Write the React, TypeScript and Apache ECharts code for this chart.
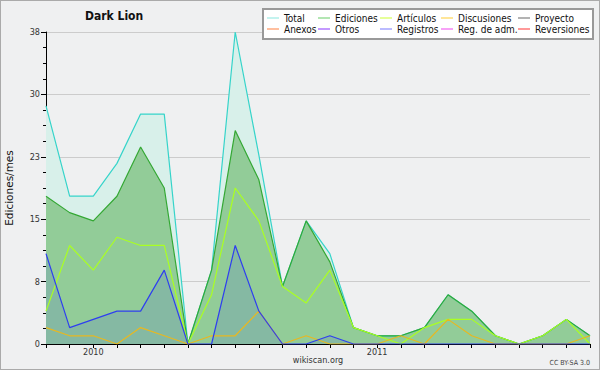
import React, { useEffect, useRef } from "react";
import * as echarts from "echarts";

const months = [
  "2009-11", "2009-12", "2010-01", "2010-02", "2010-03", "2010-04", "2010-05", "2010-06",
  "2010-07", "2010-08", "2010-09", "2010-10", "2010-11", "2010-12", "2011-01", "2011-02",
  "2011-03", "2011-04", "2011-05", "2011-06", "2011-07", "2011-08", "2011-09", "2011-10",
];
const total = [29, 18, 18, 22, 28, 28, 0, 9, 38, 23, 7, 15, 11, 2, 1, 1, 2, 6, 4, 1, 0, 1, 3, 1];
const ediciones = [18, 16, 15, 18, 24, 19, 0, 9, 26, 20, 7, 15, 10, 2, 1, 1, 2, 6, 4, 1, 0, 1, 3, 1];
const articulos = [4, 12, 9, 13, 12, 12, 0, 6, 19, 15, 7, 5, 9, 2, 1, 0, 2, 3, 3, 1, 0, 1, 3, 0];
const discusiones = [2, 1, 1, 0, 2, 1, 0, 1, 1, 4, 0, 1, 0, 0, 0, 1, 0, 3, 1, 0, 0, 0, 0, 1];
const registros = [11, 2, 3, 4, 4, 9, 0, 0, 12, 4, 0, 0, 1, 0, 0, 0, 0, 0, 0, 0, 0, 0, 0, 0];
const proyecto: number[] = [];
const anexos: number[] = [];
const otros: number[] = [];
const regAdm: number[] = [];
const reversiones: number[] = [];

const yMax = 38;
const yInterval = 7.6;

const FONT = "'DejaVu Sans Condensed', 'DejaVu Sans', sans-serif";

type S = { name: string; data: number[]; line: string; legend: string; area?: string; areaOpacity?: number };
const seriesDefs: S[] = [
  { name: "Total", data: total, line: "#36d4ca", legend: "#88e6de", area: "#d8f0ea", areaOpacity: 1 },
  { name: "Ediciones", data: ediciones, line: "#34a834", legend: "#66cc66", area: "#92cc98", areaOpacity: 1 },
  { name: "Artículos", data: articulos, line: "#aaff22", legend: "#ccff33" },
  { name: "Discusiones", data: discusiones, line: "#e8b820", legend: "#ffcc33" },
  { name: "Proyecto", data: proyecto, line: "#555555", legend: "#666666" },
  { name: "Anexos", data: anexos, line: "#ff7f3f", legend: "#ff7f3f" },
  { name: "Otros", data: otros, line: "#8833ff", legend: "#8833ff" },
  { name: "Registros", data: registros, line: "#2e3ef0", legend: "#7777ff", area: "#2e3ef0", areaOpacity: 0.13 },
  { name: "Reg. de adm.", data: regAdm, line: "#ee44ee", legend: "#ee44ee" },
  { name: "Reversiones", data: reversiones, line: "#ff3333", legend: "#ff3333" },
];

const colX = [267, 318, 380, 441, 518];
const rowY = [13, 24];

export default function App() {
  const ref = useRef<HTMLDivElement>(null);
  useEffect(() => {
    if (!ref.current) return;
    const chart = echarts.init(ref.current, undefined, { renderer: "svg" });
    const legends = seriesDefs.map((s, i) => ({
      data: [{ name: s.name, itemStyle: { color: s.legend }, icon: "rect" }],
      left: colX[i % 5],
      top: rowY[Math.floor(i / 5)],
      padding: 0,
      itemWidth: 12,
      itemHeight: 1,
      itemGap: 0,
      selectedMode: false,
      textStyle: { fontFamily: FONT, fontSize: 10, color: "#111", padding: [0, 0, 0, 0] },
      z: 10,
    }));
    chart.setOption({
      animation: false,
      backgroundColor: "transparent",
      title: {
        text: "Dark Lion",
        left: 85,
        top: 10,
        padding: 0,
        textStyle: { fontFamily: FONT, fontSize: 12, fontWeight: "bold", color: "#111" },
      },
      legend: legends,
      grid: { left: 46, right: 10, top: 32, bottom: 26, containLabel: false, outerBoundsMode: "none" },
      xAxis: {
        type: "category",
        data: months,
        boundaryGap: false,
        axisLine: { show: true, lineStyle: { color: "#000", width: 1 } },
        axisTick: { show: true, interval: 0, length: 4, lineStyle: { color: "#000" } },
        axisLabel: {
          interval: 0,
          margin: 3,
          fontFamily: FONT,
          fontSize: 9,
          color: "#333",
          formatter: (v: string) => (v.endsWith("-01") ? v.slice(0, 4) : ""),
        },
        splitLine: { show: false },
      },
      yAxis: {
        type: "value",
        min: 0,
        max: yMax,
        interval: yInterval,
        name: "Ediciones/mes",
        nameLocation: "middle",
        nameGap: 32,
        nameTextStyle: { fontFamily: "'DejaVu Sans', sans-serif", fontSize: 10.5, color: "#111" },
        axisLine: { show: true, lineStyle: { color: "#000", width: 1 } },
        axisTick: { show: true, length: 5, lineStyle: { color: "#000" } },
        minorTick: { show: true, splitNumber: 4, length: 3, lineStyle: { color: "#000" } },
        axisLabel: {
          margin: 6,
          fontFamily: FONT,
          fontSize: 9,
          color: "#333",
          formatter: (v: number) => String(Math.round(v)),
        },
        splitLine: { show: true, lineStyle: { color: "#cccccc", width: 1 } },
      },
      series: seriesDefs.map((s) => ({
        name: s.name,
        type: "line",
        data: s.data,
        symbol: "none",
        showSymbol: false,
        lineStyle: { color: s.line, width: 1.2 },
        itemStyle: { color: s.line },
        areaStyle: s.area ? { color: s.area, opacity: s.areaOpacity } : undefined,
      })),
      graphic: [
        {
          type: "rect",
          shape: { x: 263, y: 9, width: 330, height: 30 },
          style: { fill: "#ffffff", stroke: "#999999", lineWidth: 2 },
          z: 5,
          silent: true,
        },
        {
          type: "text",
          x: 318,
          y: 360,
          style: { text: "wikiscan.org", fontFamily: FONT, fontSize: 9, fill: "#333", align: "center", verticalAlign: "middle" },
        },
        {
          type: "text",
          x: 590,
          y: 363,
          style: { text: "CC BY-SA 3.0", fontFamily: FONT, fontSize: 7, fill: "#444", align: "right", verticalAlign: "middle" },
        },
      ],
    });
    return () => chart.dispose();
  }, []);
  return (
    <div
      style={{
        position: "fixed",
        left: 0,
        top: 0,
        width: 600,
        height: 370,
        boxSizing: "border-box",
        border: "1px solid #aaaaaa",
        background: "#eff0f1",
      }}
    >
      <div ref={ref} style={{ position: "absolute", left: -1, top: -1, width: 600, height: 370 }} />
    </div>
  );
}
